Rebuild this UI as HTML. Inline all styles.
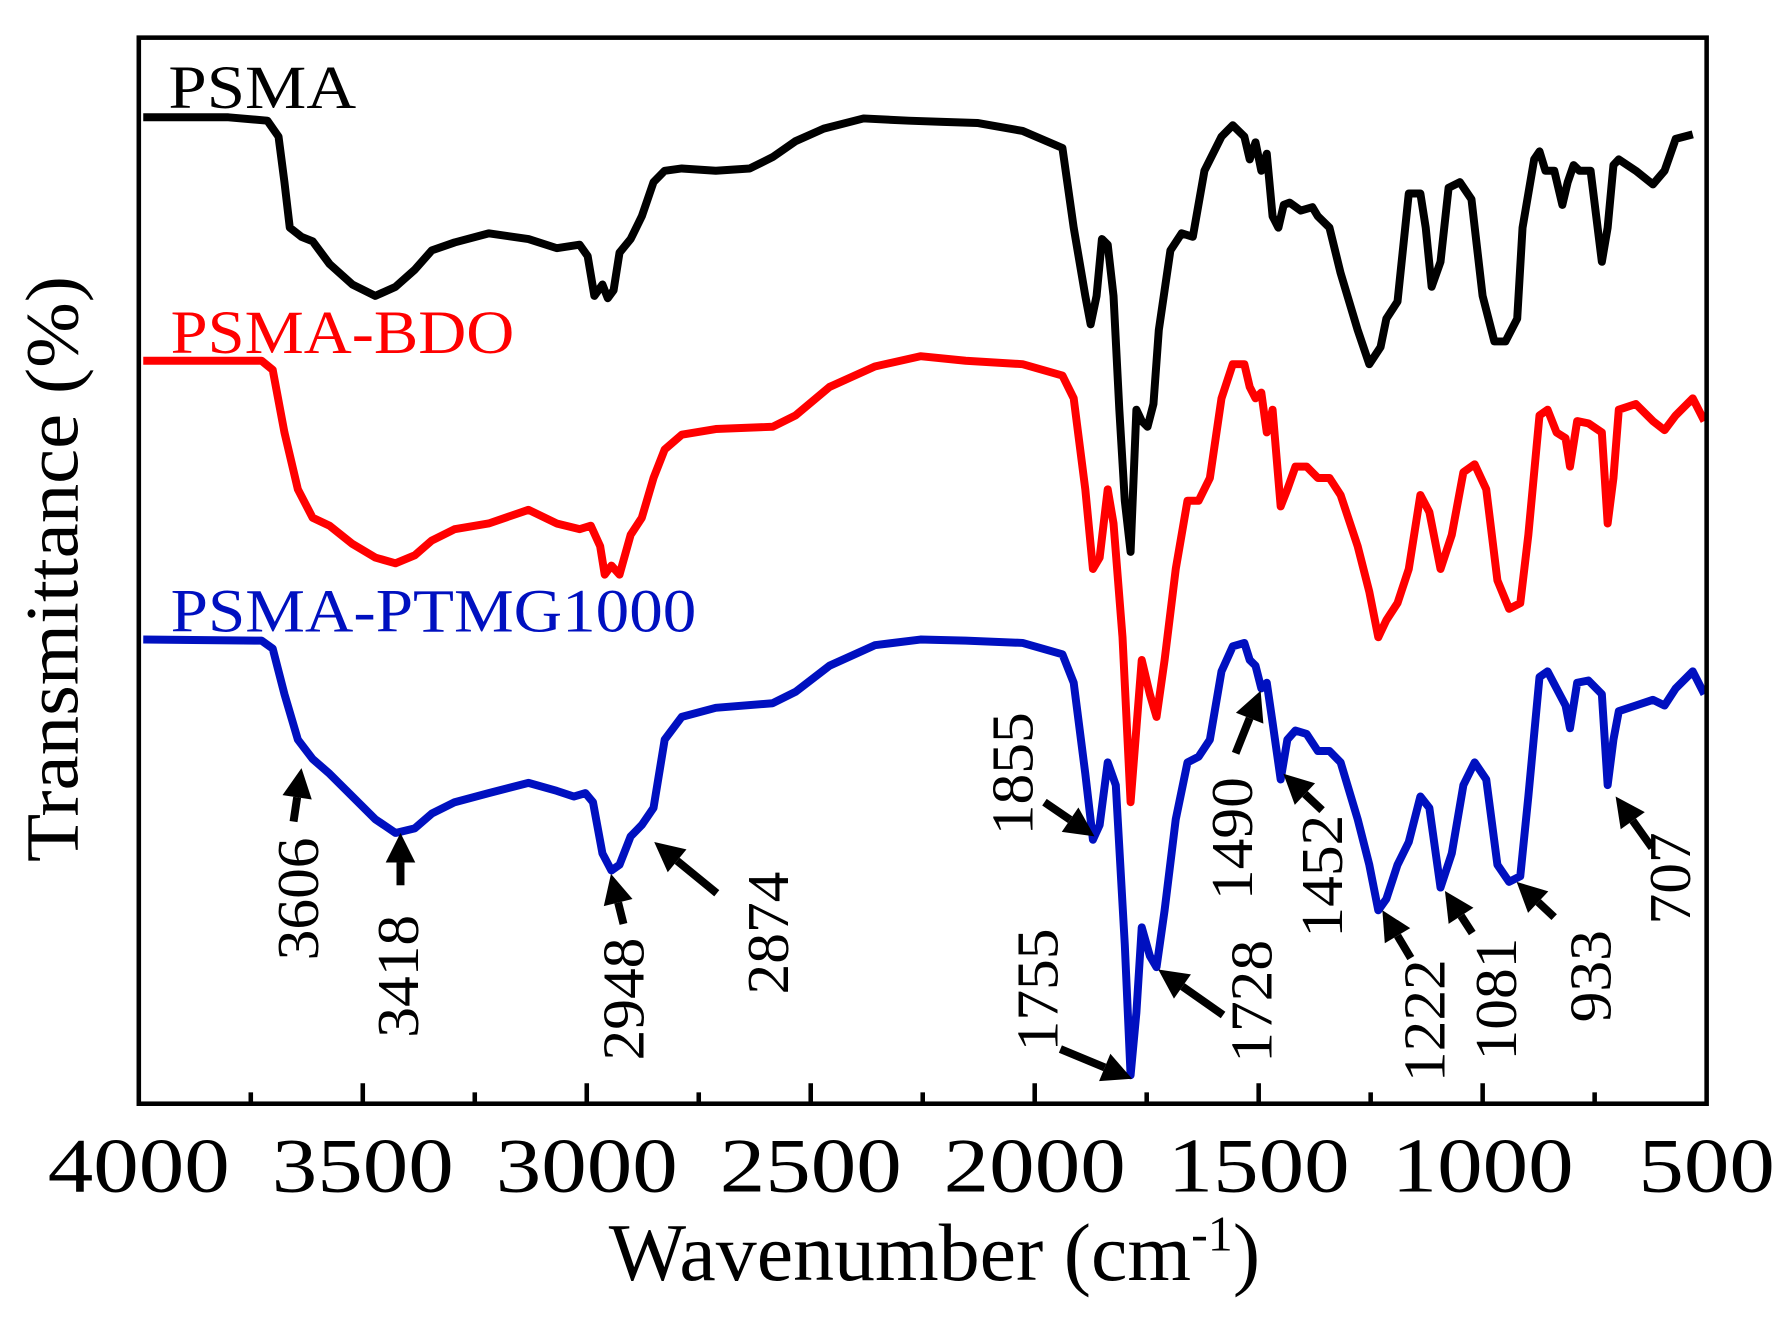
<!DOCTYPE html>
<html><head><meta charset="utf-8"><style>
html,body{margin:0;padding:0;background:#fff;}
svg{display:block;}
text{font-family:"Liberation Serif",serif;}
</style></head><body>
<svg id="chart" width="1784" height="1320" viewBox="0 0 1568 1160" xmlns="http://www.w3.org/2000/svg">
<g id="plot"></g>
</svg>
<script>
// data: wavenumber (cm-1) and transmittance (offset, arbitrary units)
const psmaWave = [3990,3800,3713,3688,3675,3663,3637,3612,3574,3523,3472,3427,3384,3346,3295,3219,3130,3067,3016,2998,2983,2965,2953,2940,2927,2902,2877,2851,2826,2788,2712,2636,2585,2534,2471,2382,2281,2205,2128,2027,1938,1913,1887,1875,1862,1850,1837,1824,1811,1799,1786,1773,1761,1748,1735,1723,1697,1672,1647,1621,1583,1558,1532,1520,1507,1494,1482,1469,1456,1444,1431,1406,1380,1368,1342,1317,1279,1253,1228,1215,1190,1165,1139,1127,1114,1094,1076,1051,1025,1000,974,949,923,911,885,873,860,840,822,810,797,784,759,734,721,708,696,658,620,594,569,531,505];
const psmaT = [897,897,894,880,840,800,792,788,768,750,740,748,763,780,787,795,790,782,785,775,740,750,738,745,778,790,810,840,850,852,850,852,862,876,887,896,894,893,892,885,870,800,740,715,740,790,785,740,640,560,515,640,630,625,645,710,780,795,792,850,880,890,880,860,875,850,865,810,800,820,822,815,818,810,800,760,710,680,695,720,735,830,830,800,748,770,835,840,825,740,700,700,720,800,860,867,850,850,820,840,855,850,850,770,800,855,860,850,838,850,878,882];
const bdoWave = [3990,3726,3701,3675,3645,3612,3574,3523,3472,3427,3384,3346,3295,3219,3130,3067,3016,2991,2970,2960,2945,2927,2902,2877,2851,2826,2788,2712,2585,2534,2458,2357,2255,2154,2027,1938,1913,1887,1870,1855,1837,1824,1804,1786,1773,1761,1743,1728,1710,1685,1659,1634,1609,1583,1558,1532,1520,1507,1494,1482,1469,1451,1436,1418,1393,1368,1342,1317,1279,1253,1233,1215,1190,1165,1139,1119,1094,1069,1043,1018,992,967,941,916,898,873,855,835,815,805,789,764,734,721,708,696,658,620,594,569,531,505];
const bdoT = [683,683,675,620,570,545,538,522,510,505,512,525,535,540,552,540,535,538,520,495,503,495,530,545,580,605,618,623,625,635,660,678,687,683,680,670,650,570,500,510,570,540,440,295,360,420,390,370,420,500,560,560,580,650,680,680,660,650,655,620,640,555,570,590,590,580,580,565,520,480,440,455,470,500,565,550,500,530,585,592,570,490,465,470,530,635,640,620,615,590,630,628,620,540,580,640,645,630,622,635,650,630];
const ptmgWave = [3990,3726,3701,3675,3645,3612,3574,3523,3472,3427,3384,3346,3295,3219,3130,3067,3029,3003,2986,2965,2945,2927,2902,2877,2851,2826,2788,2712,2585,2534,2458,2357,2255,2154,2027,1938,1913,1887,1870,1855,1837,1819,1799,1786,1773,1761,1743,1728,1710,1685,1659,1634,1609,1583,1558,1532,1520,1507,1494,1482,1469,1451,1436,1418,1393,1368,1342,1317,1279,1253,1233,1215,1190,1165,1139,1119,1094,1069,1043,1018,992,967,941,916,898,873,855,835,815,805,789,764,734,721,708,696,658,620,594,569,531,505];
const ptmgT = [438,437,430,390,350,333,320,300,280,268,272,285,295,303,312,305,300,303,295,250,235,240,265,275,290,350,370,378,382,392,415,433,438,437,435,425,400,320,262,275,330,310,170,55,110,185,160,150,200,280,330,335,350,410,432,435,420,415,395,400,365,315,350,358,355,340,340,330,280,240,200,210,240,260,300,290,220,250,310,330,315,240,225,230,300,405,410,395,380,360,400,402,390,310,350,375,380,385,380,395,410,390];

const X0 = 122, X1 = 1500, Y_TOP = 33, Y_BOT = 970;
function xs(w){ return X0 + (4000 - w) / 3500 * (X1 - X0); }
function ys(t){ return 1000 - t; }

const svg = document.getElementById('chart');
const g = document.getElementById('plot');
const NS = 'http://www.w3.org/2000/svg';

function drawSeries(wave, vals, color, name){
  const p = document.createElementNS(NS, 'path');
  let d = '';
  for (let i = 0; i < wave.length; i++) d += (i ? 'L' : 'M') + xs(wave[i]).toFixed(1) + ',' + ys(vals[i]).toFixed(1);
  p.setAttribute('d', d);
  p.setAttribute('fill', 'none');
  p.setAttribute('stroke', color);
  p.setAttribute('stroke-width', '7');
  p.setAttribute('stroke-linejoin', 'round');
  
  
  g.appendChild(p);
}
drawSeries(psmaWave, psmaT, '#000', 'psma-line');
drawSeries(bdoWave, bdoT, '#ff0000', 'psma-bdo-line');
drawSeries(ptmgWave, ptmgT, '#0010c0', 'psma-ptmg1000-line');

const fr = document.createElementNS(NS, 'rect');
fr.setAttribute('x', X0); fr.setAttribute('y', Y_TOP);
fr.setAttribute('width', X1 - X0); fr.setAttribute('height', Y_BOT - Y_TOP);
fr.setAttribute('fill', 'none'); fr.setAttribute('stroke', '#000'); fr.setAttribute('stroke-width', '4');


svg.appendChild(fr);

const tickVals = [4000,3500,3000,2500,2000,1500,1000,500];
const tickLabels = ['4000','3500','3000','2500','2000','1500','1000','500'];
for (let w = 3750; w > 500; w -= 250){
  const major = (w % 500 === 0);
  const t = document.createElementNS(NS, 'line');
  t.setAttribute('x1', xs(w)); t.setAttribute('x2', xs(w));
  t.setAttribute('y1', Y_BOT); t.setAttribute('y2', Y_BOT - (major ? 18 : 10));
  t.setAttribute('stroke', '#000'); t.setAttribute('stroke-width', '4');
  
  
  svg.appendChild(t);
}
tickVals.forEach((w, i) => {
  const tx = document.createElementNS(NS, 'text');
  tx.setAttribute('x', xs(w)); tx.setAttribute('y', 1047);
  tx.setAttribute('text-anchor', 'middle'); tx.setAttribute('font-size', '68');
  tx.setAttribute('textLength', tickLabels[i].length * 40);
  tx.setAttribute('lengthAdjust', 'spacingAndGlyphs');
  tx.textContent = tickLabels[i];
  
  
  svg.appendChild(tx);
});

// annotations: [label, tipX, tipY, tailX, tailY, labelX, labelY]
const annotations = [
  ['3606',265,675,258,722,262,790],
  ['3418',352,732,352,778,350,858],
  ['2948',537,768,548,812,548,878],
  ['2874',575,740,630,785,675,820],
  ['1855',962,735,918,705,890,680],
  ['1755',995,948,932,922,912,870],
  ['1728',1018,852,1075,892,1100,880],
  ['1490',1108,607,1086,662,1083,737],
  ['1452',1128,680,1162,712,1162,770],
  ['1222',1215,800,1240,842,1252,897],
  ['1081',1270,783,1294,820,1315,878],
  ['933',1333,775,1366,806,1398,858],
  ['707',1420,700,1452,745,1468,772]
];
annotations.forEach(a => {
  const [lab, tx, ty, sx, sy, lx, ly] = a;
  const dx = tx - sx, dy = ty - sy, L = Math.hypot(dx, dy);
  const ux = dx / L, uy = dy / L, hl = 26, hw = 13;
  const bx = tx - ux * hl, by = ty - uy * hl;
  const ln = document.createElementNS(NS, 'line');
  ln.setAttribute('x1', sx); ln.setAttribute('y1', sy); ln.setAttribute('x2', bx); ln.setAttribute('y2', by);
  ln.setAttribute('stroke', '#000'); ln.setAttribute('stroke-width', '7');
  
  
  svg.appendChild(ln);
  const hd = document.createElementNS(NS, 'polygon');
  hd.setAttribute('points', tx + ',' + ty + ' ' + (bx - uy * hw) + ',' + (by + ux * hw) + ' ' + (bx + uy * hw) + ',' + (by - ux * hw));
  hd.setAttribute('fill', '#000');
  
  
  svg.appendChild(hd);
  const t = document.createElementNS(NS, 'text');
  t.setAttribute('x', 0); t.setAttribute('y', 0);
  t.setAttribute('transform', 'translate(' + lx + ',' + ly + ') rotate(-90)');
  t.setAttribute('text-anchor', 'middle'); t.setAttribute('dominant-baseline', 'central');
  t.setAttribute('font-size', '52');
  t.setAttribute('textLength', lab.length * 27);
  t.setAttribute('lengthAdjust', 'spacingAndGlyphs');
  t.textContent = lab;
  
  
  svg.appendChild(t);
});
</script>
<svg style="position:absolute;left:0;top:0" width="1784" height="1320" viewBox="0 0 1568 1160" xmlns="http://www.w3.org/2000/svg">
<text x="148" y="95" font-size="54" fill="#000" textLength="165" lengthAdjust="spacingAndGlyphs">PSMA</text>
<text x="150" y="310" font-size="54" fill="#ff0000" textLength="302" lengthAdjust="spacingAndGlyphs">PSMA-BDO</text>
<text x="150" y="555" font-size="54" fill="#0010c0" textLength="462" lengthAdjust="spacingAndGlyphs">PSMA-PTMG1000</text>
<text x="535" y="1125" font-size="72">Wavenumber (cm<tspan dy="-26" font-size="44">-1</tspan><tspan dy="26">)</tspan></text>
<text transform="translate(68,500) rotate(-90)" font-size="66" text-anchor="middle" textLength="515" lengthAdjust="spacingAndGlyphs">Transmittance (%)</text>
</svg>
</body></html>
